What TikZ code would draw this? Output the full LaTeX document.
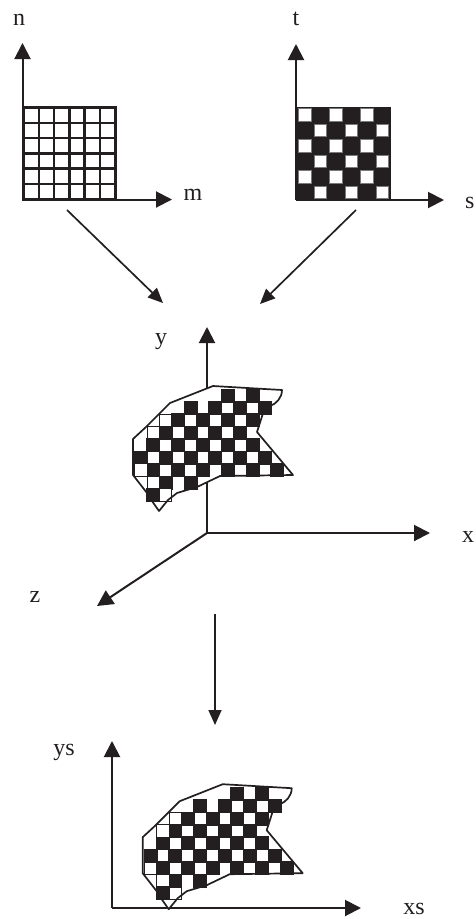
\documentclass[tikz,border=0pt]{standalone}
\usepackage{fontspec}
\setmainfont{Liberation Serif}
\usetikzlibrary{arrows.meta}
\definecolor{ink}{HTML}{231F20}
\tikzset{
  axisline/.style={ink, line width=2pt, -{Triangle[length=16pt,width=16pt]}},
  maparrow/.style={ink, line width=1.7pt, -{Triangle[length=15pt,width=13pt]}},
  axislabel/.style={ink, anchor=base, inner sep=0pt, font=\fontsize{24}{24}\selectfont},
  darkcell/.style={fill=ink, draw=ink, line width=1.6pt},
  opencell/.style={fill=white, draw=ink, line width=1.1pt},
  gridcell/.style={fill=white, draw=ink, line width=2.6pt}
}
\newcommand{\drawpatch}[1]{%
\begin{scope}[shift={#1}]
\fill[white] (133,439) -- (146,427) -- (170,403) -- (213,386) -- (282,390)
  .. controls (282,398) and (276,404) .. (270,406) -- (265,407) -- (257,432) -- (293,475)
  -- (220,476) -- (197,487) -- (177,493) -- (168,500) -- (159,511) -- (152,501) -- (147,493) -- (133,475) -- cycle;
\foreach \r/\cols in {0/{7,9}, 1/{4,6,8,10}, 2/{3,5,7,9}, 3/{2,4,6,8}, 4/{1,3,5,7,9},
  5/{0,2,4,6,8,10}, 6/{1,3,5,7,9,11}, 7/{2,4}, 8/{1}} {
  \foreach \c in \cols {
    \draw[darkcell] ({134.7+\c*12.4},{389.3+\r*12.43}) rectangle +(12.4,12.43);
  }
}
\foreach \r/\c in {2/2, 3/1, 6/0, 7/1, 8/2} {
  \draw[opencell] ({134.7+\c*12.4},{389.3+\r*12.43}) rectangle +(12.4,12.43);
}
\draw[ink, line width=1.7pt, line join=round] (133,439) -- (146,427) -- (170,403) -- (213,386) -- (282,390)
  .. controls (282,398) and (276,404) .. (270,406) -- (265,407) -- (257,432) -- (293,475)
  -- (220,476) -- (197,487) -- (177,493) -- (168,500) -- (159,511) -- (152,501) -- (147,493) -- (133,475) -- cycle;
\end{scope}}

\begin{document}
\begin{tikzpicture}[x=1pt, y=-1pt]
\useasboundingbox (0,0) rectangle (475,919);

% coordinates of the axes
\coordinate (origina) at (22.5,199.5);
\coordinate (na) at (22.5,43);
\coordinate (ma) at (172,199.5);
\coordinate (originb) at (296,200);
\coordinate (tb) at (296,44);
\coordinate (sb) at (444,200);
\coordinate (origin) at (207,533);
\coordinate (yc) at (207,327);
\coordinate (xc) at (430,533);
\coordinate (zc) at (97,606);
\coordinate (origins) at (112,908);
\coordinate (ys) at (112,741);
\coordinate (xs) at (361,908);

% first grid
\foreach \r in {0,...,5} {
  \foreach \c in {0,...,5} {
    \draw[gridcell] ({23.5+\c*15.3},{107.5+\r*15.3}) rectangle +(15.3,15.3);
  }
}
\draw[axisline] (origina) -- (na);
\draw[axisline] (origina) -- (ma);

% second grid
\fill[ink] (297,107) rectangle (391,200);
\foreach \r/\c in {0/0,0/2,0/4,1/1,1/3,1/5,2/0,2/2,2/4,3/1,3/3,3/5,4/0,4/2,4/4,5/1,5/3,5/5} {
  \draw[fill=white, draw=ink!60, line width=0.4pt] ({298.5+\c*15.45},{108.5+\r*15.45}) rectangle +(12.6,12.6);
}
\draw[axisline] (originb) -- (tb);
\draw[axisline] (originb) -- (sb);

% maps between the pictures
\coordinate (fromgrida) at (67,210);
\coordinate (togrida) at (163,303);
\coordinate (fromgridb) at (356,210);
\coordinate (togridb) at (260,304);
\coordinate (fromworld) at (215,614);
\coordinate (toscreen) at (215,725);
\draw[maparrow] (fromgrida) -- (togrida);
\draw[maparrow] (fromgridb) -- (togridb);
\draw[maparrow] (fromworld) -- (toscreen);

% world space
\draw[axisline] (origin) -- (yc);
\draw[axisline] (origin) -- (xc);
\draw[axisline] (origin) -- (zc);
\drawpatch{(0,0)}

% screen space
\draw[axisline] (origins) -- (ys);
\draw[axisline] (origins) -- (xs);
\drawpatch{(9.7,398.2)}

% labels
\node[axislabel] (labn) at (19,25) {n};
\node[axislabel] (labt) at (296,25) {t};
\node[axislabel] (labm) at (193,200) {m};
\node[axislabel, anchor=base west] (labs) at (465,208) {s};
\node[axislabel] (laby) at (161,344) {y};
\node[axislabel, anchor=base west] (labx) at (462,542) {x};
\node[axislabel] (labz) at (35,602) {z};
\node[axislabel] (labys) at (64,755) {ys};
\node[axislabel] (labxs) at (414,914) {xs};
\end{tikzpicture}
\end{document}
